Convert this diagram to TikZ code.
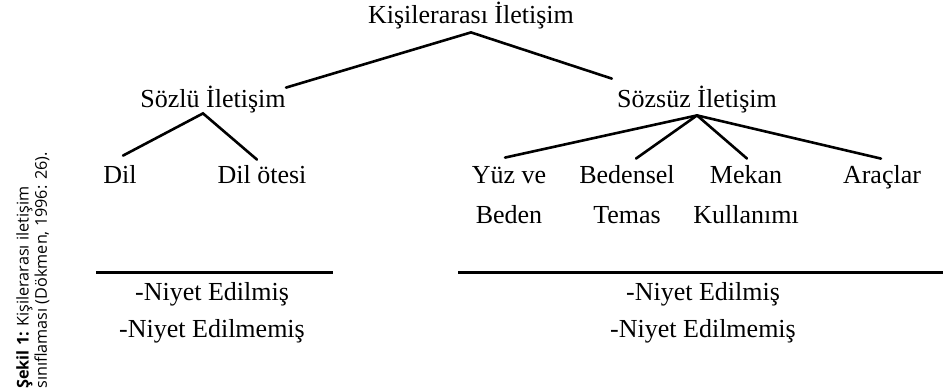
\documentclass[tikz,border=0pt]{standalone}
\usepackage{fontspec}
\setmainfont{Liberation Serif}
\newfontfamily\capfont{Open Sans}
\usetikzlibrary{positioning}
\tikzset{
  term/.style={inner xsep=0pt, inner ysep=1.5pt, font=\fontsize{13}{20}\selectfont, align=center,
               text height=10pt, text depth=3pt, anchor=base},
  twoline/.style={text height={}, text depth={}},
  branch/.style={draw, line width=1.3pt, line cap=round},
  rulebar/.style={draw, line width=1.3pt},
  intent/.style={inner sep=0pt, font=\fontsize{13}{18.5}\selectfont, align=center, anchor=base},
  figcap/.style={inner sep=0pt, font=\capfont\fontsize{8.1}{7.6}\selectfont, align=left, rotate=90, anchor=north west}
}

\begin{document}
\begin{tikzpicture}[x=0.5pt, y=-0.5pt]
\useasboundingbox (0,0) rectangle (945,391);
% tree
\node[term] (root) at (471,23) {Kişilerarası İletişim};
\node[term] (sozlu) at (213,107) {Sözlü İletişim};
\node[term] (sozsuz) at (697,107) {Sözsüz İletişim};
\node[term] (dil) at (120,183) {Dil};
\node[term] (dilotesi) at (262,183) {Dil ötesi};
\node[term, twoline] (yuz) at (509,223) {Yüz ve\\Beden};
\node[term, twoline] (temas) at (627,223) {Bedensel\\Temas};
\node[term, twoline] (mekan) at (746,223) {Mekan\\Kullanımı};
\node[term] (arac) at (882,183) {Araçlar};
\draw[branch] (root.south) -- ([yshift=-2pt]sozlu.north east);
\draw[branch] (root.south) -- ([xshift=-2.5pt,yshift=2.5pt]sozsuz.north west);
\draw[branch] ([xshift=1.5pt,yshift=2pt]dil.north) -- ([xshift=-5pt,yshift=1.5pt]sozlu.south)
  -- ([xshift=-2.5pt]dilotesi.north);
\foreach \kid/\dx/\dy in {yuz/-2pt/2.5pt, temas/4.5pt/1.5pt, mekan/0.5pt/1.5pt, arac/-0.5pt/0.5pt}
  \draw[branch] ([yshift=0.5pt]sozsuz.south) -- ([xshift=\dx,yshift=\dy]\kid.north);
% intention
\node[intent] (niyetA) at (212,337) {-Niyet Edilmiş\\-Niyet Edilmemiş};
\node[intent] (niyetB) at (703,337) {-Niyet Edilmiş\\-Niyet Edilmemiş};
\coordinate (ruleA) at (96,272.5);
\coordinate (ruleB) at (458,272.5);
\draw[rulebar] (ruleA) -- (ruleA -| 333,0);
\draw[rulebar] (ruleB) -- (ruleB -| 943,0);
% caption
\node[figcap] (sekil) at (16,389) {\textbf{Şekil 1:} Kişilerarası iletişim\\sınıflaması (Dökmen, 1996: 26).};
\end{tikzpicture}
\end{document}
